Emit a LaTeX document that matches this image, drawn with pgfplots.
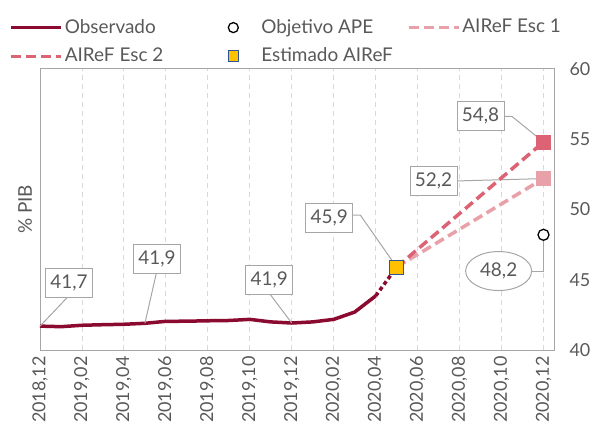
\documentclass[border=0pt]{standalone}
\usepackage{pgfplots}
\pgfplotsset{compat=1.18}
\usepackage{fontspec}
\setmainfont{Lato}
\usetikzlibrary{shapes.geometric}
\definecolor{txt}{HTML}{595959}
\definecolor{axgray}{HTML}{A6A6A6}
\definecolor{gridc}{HTML}{D9D9D9}
\definecolor{obs}{HTML}{8B0A2F}
\definecolor{esc1}{HTML}{E8A0A9}
\definecolor{esc2}{HTML}{DB6374}
\definecolor{yel}{HTML}{FFC000}
\definecolor{blu}{HTML}{2E5597}
\newcommand\bigf{\fontsize{19}{22}\selectfont}
\newcommand\tickf{\fontsize{18}{21}\selectfont}
\begin{document}
\bigf
\begin{tikzpicture}[
 box/.style={draw=axgray, fill=white, text=txt, line width=1pt, minimum width=47bp, minimum height=29bp, inner sep=3bp, font=\bigf},
 leader/.style={axgray, line width=1pt}]
\path[use as bounding box] (0,0) rectangle (595bp,431bp);
\begin{axis}[
 at={(40bp,81bp)}, anchor=south west,
 scale only axis, width=514bp, height=281bp,
 xmin=0, xmax=24.5, ymin=40, ymax=60,
 xtick={0,2,...,24},
 xticklabels={{2018,12},{2019,02},{2019,04},{2019,06},{2019,08},{2019,10},{2019,12},{2020,02},{2020,04},{2020,06},{2020,08},{2020,10},{2020,12}},
 xticklabel style={rotate=90, anchor=east, text=txt, font=\tickf},
 ytick={40,45,...,60},
 yticklabel pos=right,
 yticklabel style={text=txt, xshift=9bp, font=\tickf},
 /pgf/number format/assume math mode=true,
 axis line style={axgray, line width=1pt},
 major tick style={draw=none},
 xmajorgrids, grid style={gridc, dash pattern=on 5bp off 4bp, line width=0.9pt},
 clip=false,
 legend columns=3,
 legend cell align=left,
 legend style={at={(axis description cs:-0.060,1.185)}, anchor=north west, draw=none, fill=none, text=txt, font=\bigf,
   /tikz/column 2/.style={column sep=60bp}, /tikz/column 4/.style={column sep=12bp},
   /tikz/row sep=8bp, inner sep=0pt, nodes={inner sep=2bp}},
]
\addplot[obs, line width=3.5bp, line join=round,
  legend image code/.code={\draw[obs, line width=3.5bp] (0bp,0) -- (50bp,0);}]
  coordinates {(0,41.70)(1,41.66)(2,41.76)(3,41.80)(4,41.83)(5,41.90)(6,42.04)(7,42.05)(8,42.08)(9,42.10)(10,42.18)(11,42.00)(12,41.92)(13,42.00)(14,42.18)(15,42.70)(16,43.85)};
\addlegendentry{Observado}
\addplot[obs, line width=3.5bp, dash pattern=on 4bp off 3bp, forget plot]
  coordinates {(16,43.85)(17,45.9)};
% annotations
\draw[leader] (axis cs:0,41.7) -- (axis cs:1.34,43.8);
\draw[leader] (axis cs:5,41.9) -- (axis cs:5.55,45.5);
\draw[leader] (axis cs:12,41.92) -- (axis cs:10.95,44.0);
\draw[leader] (axis cs:14.9,49.6) -- (axis cs:15.27,49.6) -- (axis cs:17,45.9);
\draw[leader] (axis cs:22.0,56.62) -- (axis cs:22.5,56.62) -- (axis cs:24,54.8);
\draw[leader] (axis cs:19.8,52.03) -- (axis cs:24,52.2);
\draw[leader] (axis cs:23.3,45.62) -- (axis cs:24,45.62) -- (axis cs:24,48.2);
\node[box] at (axis cs:1.38,44.77) {41,7};
\node[box] at (axis cs:5.58,46.48) {41,9};
\node[box] at (axis cs:10.93,44.98) {41,9};
\node[box] at (axis cs:13.79,49.39) {45,9};
\node[box] at (axis cs:21.0,56.65) {54,8};
\node[box] at (axis cs:18.76,52.03) {52,2};
\node[ellipse, draw=axgray, fill=white, text=txt, line width=1pt, minimum width=66bp, minimum height=39bp, inner sep=1bp, font=\bigf] at (axis cs:21.86,45.62) {48,2};
\addplot[only marks, mark=*, mark size=5.5bp, mark options={draw=black, fill=white, line width=1.3pt},
  legend image code/.code={\path[draw=none,fill=none] (0bp,0) -- (34bp,0); \draw[black, line width=1.3pt, fill=white] (8bp,0) circle (5bp);}]
  coordinates {(24,48.2)};
\addlegendentry{Objetivo APE}
\addplot[esc1, line width=3.5bp, dash pattern=on 10bp off 5bp,
  legend image code/.code={\draw[esc1, line width=3.5bp, dash pattern=on 10bp off 5bp] (0bp,0) -- (50bp,0);}]
  coordinates {(17,45.9)(24,52.2)};
\addlegendentry{AIReF Esc 1}
\addplot[esc2, line width=3.5bp, dash pattern=on 10bp off 5bp,
  legend image code/.code={\draw[esc2, line width=3.5bp, dash pattern=on 10bp off 5bp] (0bp,0) -- (50bp,0);}]
  coordinates {(17,45.9)(24,54.8)};
\addlegendentry{AIReF Esc 2}
\addplot[only marks, mark=square*, mark size=7bp, mark options={draw=esc1, fill=esc1}, forget plot]
  coordinates {(24,52.2)};
\addplot[only marks, mark=square*, mark size=7bp, mark options={draw=esc2, fill=esc2}, forget plot]
  coordinates {(24,54.8)};
\addplot[only marks, mark=square*, mark size=7bp, mark options={draw=blu, fill=yel, line width=1.2pt},
  legend image code/.code={\path[draw=none,fill=none] (0bp,0) -- (34bp,0); \draw[blu, fill=yel, line width=1.2pt] (3bp,-5.5bp) rectangle (13bp,5.5bp);}]
  coordinates {(17,45.9)};
\addlegendentry{Estimado AIReF}
\node[rotate=90, text=txt, font=\bigf] at (axis description cs:-0.029,0.5) {\% PIB};
\end{axis}
\end{tikzpicture}
\end{document}
